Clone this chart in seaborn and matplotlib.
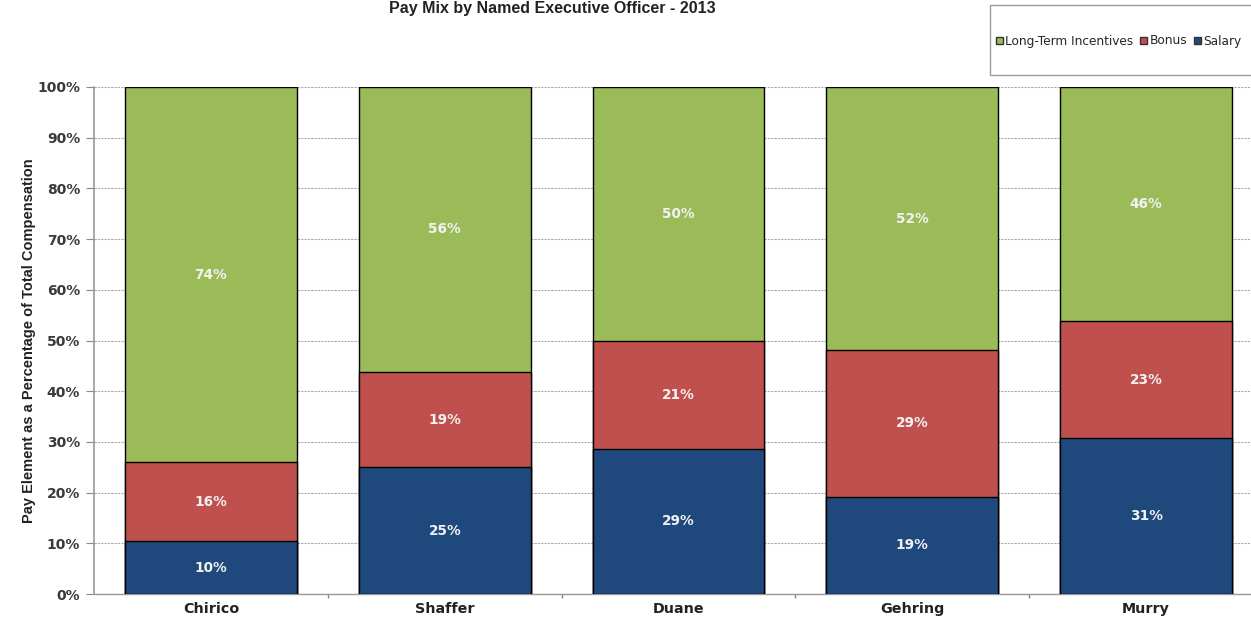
import numpy as np
import pandas as pd
import matplotlib
matplotlib.use("Agg")
import matplotlib.pyplot as plt
from matplotlib.patches import Patch, Rectangle
import seaborn as sns

# --- data ---
officers = ["Chirico", "Shaffer", "Duane", "Gehring", "Murry"]
salary = [10.4, 25.0, 28.6, 19.2, 30.7]
bonus = [15.6, 18.8, 21.4, 28.9, 23.1]
lti = [74.0, 56.2, 50.0, 51.9, 46.2]
salary_lbl = ["10%", "25%", "29%", "19%", "31%"]
bonus_lbl = ["16%", "19%", "21%", "29%", "23%"]
lti_lbl = ["74%", "56%", "50%", "52%", "46%"]

GREEN = "#9BBB59"
RED = "#C0504D"
BLUE = "#1F497D"
WIDE = ["DejaVu Sans"]

sns.set_theme(style="white")
plt.rcParams["font.family"] = ["Liberation Sans", "DejaVu Sans"]

df = pd.DataFrame({"officer": officers, "salary": salary, "bonus": bonus, "lti": lti})
df["sb"] = df["salary"] + df["bonus"]
df["total"] = df["sb"] + df["lti"]

fig = plt.figure(figsize=(12.51, 6.18), dpi=100)
W, H = 1251, 618
ax = fig.add_axes([94 / W, 1 - 594 / H, (1263 - 94) / W, 507 / H])

# stacked bars drawn as cumulative layers
for col, color in [("total", GREEN), ("sb", RED), ("salary", BLUE)]:
    sns.barplot(data=df, x="officer", y=col, color=color, width=0.735,
                edgecolor="black", linewidth=1.0, saturation=1, ax=ax, zorder=3)

# segment labels
for i in range(len(officers)):
    for y, s in [(salary[i] / 2, salary_lbl[i]),
                 (salary[i] + bonus[i] / 2, bonus_lbl[i]),
                 (salary[i] + bonus[i] + lti[i] / 2, lti_lbl[i])]:
        ax.text(i, y, s, ha="center", va="center", family=WIDE,
                color="#F2F2F2", fontsize=9.8, fontweight="bold", zorder=5)

ax.set_xlim(-0.5, len(officers) - 0.5)
ax.set_ylim(0, 100)
ax.set_yticks(np.arange(0, 101, 10))
ax.set_yticklabels([f"{v}%" for v in range(0, 101, 10)], family=WIDE,
                   fontsize=10, fontweight="bold", color="#3A3A3A")
ax.set_xticks(range(len(officers)))
ax.set_xticklabels(officers, family=WIDE, fontsize=10.3, fontweight="bold",
                   color="#222222")
ax.tick_params(axis="x", length=0, pad=6)
ax.tick_params(axis="y", length=6, width=0.8, color="#888888", left=True, pad=4)
ax.set_xticks(np.arange(0.5, len(officers) - 0.5, 1), minor=True)
ax.tick_params(axis="x", which="minor", length=3, color="#888888", bottom=True)

ax.yaxis.grid(True, linestyle=(0, (2, 1)), color="#AAAAAA", linewidth=0.8, zorder=0)
ax.set_axisbelow(True)
for s in ["top", "right"]:
    ax.spines[s].set_visible(False)
ax.spines["left"].set_color("#999999")
ax.spines["left"].set_linewidth(1.2)
ax.spines["bottom"].set_color("#999999")
ax.spines["bottom"].set_linewidth(1.0)

ax.set_xlabel("")
ax.set_ylabel("Pay Element as a Percentage of Total Compensation",
              family=["Liberation Sans Narrow", "Liberation Sans", "DejaVu Sans"],
              fontsize=10.5, fontweight="bold", color="#222222", labelpad=1)

# title at the very top edge
fig.text(552 / W, 1 - 1 / H, "Pay Mix by Named Executive Officer - 2013",
         ha="center", va="top", fontsize=11.5, fontweight="bold", color="#222222")

# legend box
fig.patches.append(Rectangle((990 / W, 1 - 75 / H), 300 / W, 70 / H,
                             transform=fig.transFigure, facecolor="white",
                             edgecolor="#999999", linewidth=1.0))
handles = [Patch(facecolor=GREEN, edgecolor="#333333", label="Long-Term Incentives"),
           Patch(facecolor=RED, edgecolor="#333333", label="Bonus"),
           Patch(facecolor=BLUE, edgecolor="#333333", label="Salary")]
fig.legend(handles=handles, loc="center left", bbox_to_anchor=(996 / W, 1 - 41 / H),
           ncol=3, frameon=False, prop={"family": WIDE, "size": 8.7},
           handlelength=0.55, handleheight=0.55, handletextpad=0.2,
           columnspacing=0.6, borderpad=0, borderaxespad=0)

fig.savefig("out.png", dpi=100)
